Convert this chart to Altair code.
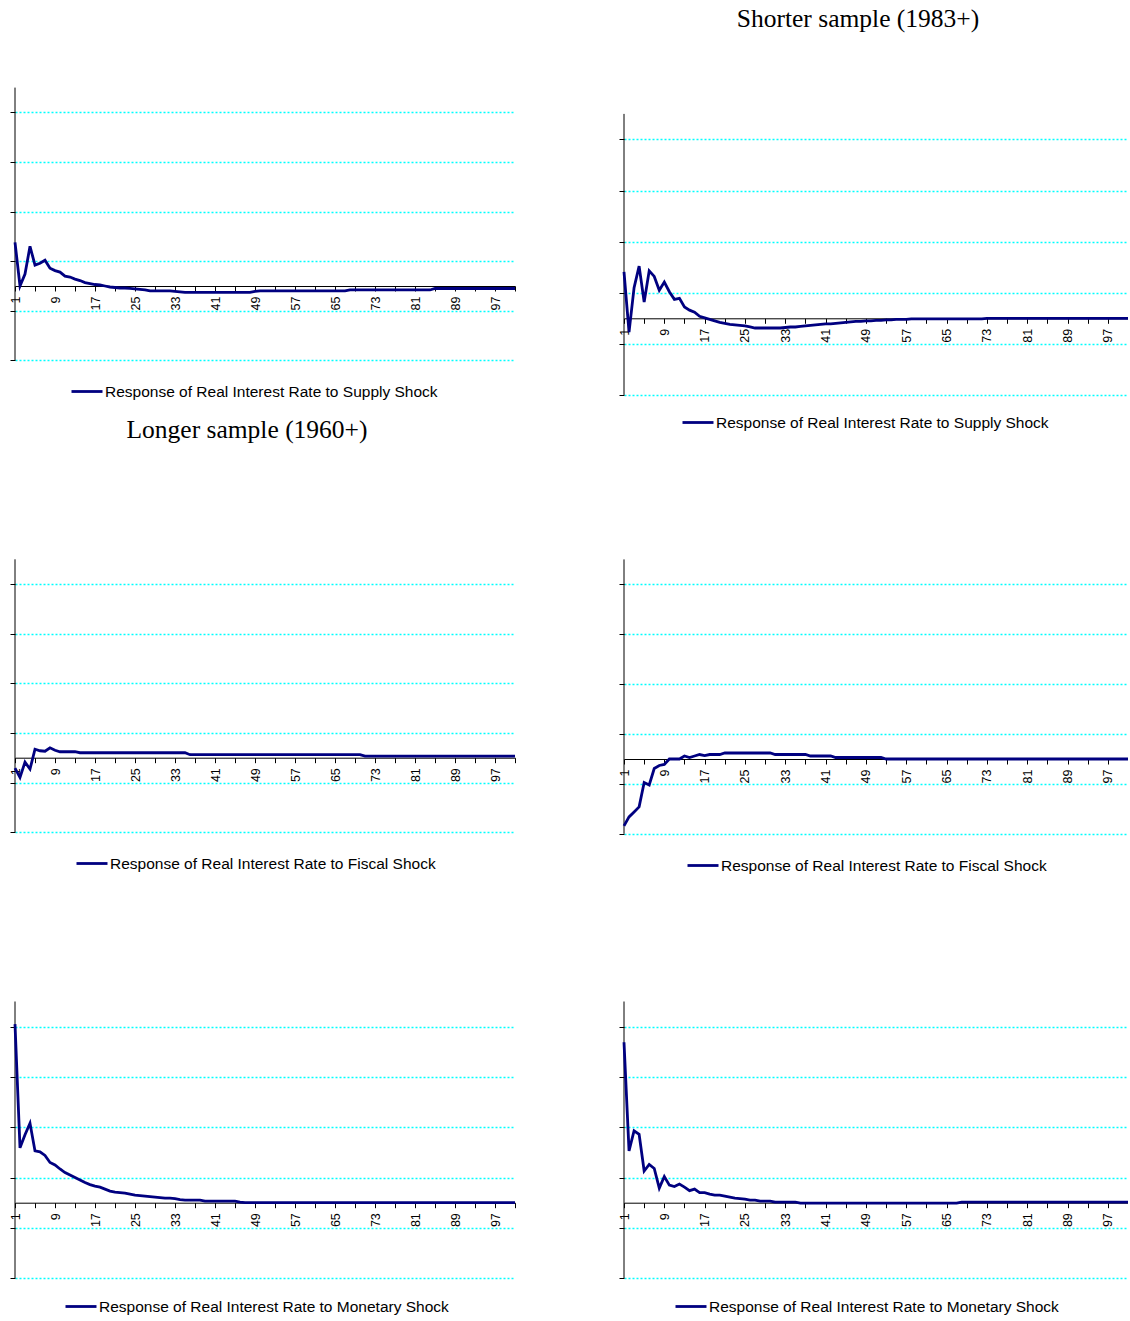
import altair as alt
import pandas as pd

# ---------------- data ----------------
PERIODS = list(range(1, 102))

LONG_SUPPLY = [
    0.088, 0.000, 0.024, 0.080, 0.042, 0.046, 0.052, 0.036, 0.031, 0.028,
    0.020, 0.018, 0.014, 0.011, 0.007, 0.005, 0.003, 0.002, 0.000, -0.002,
    -0.003, -0.004, -0.004, -0.005, -0.006, -0.007, -0.008, -0.010, -0.010, -0.010,
    -0.010, -0.010, -0.011, -0.012, -0.013, -0.013, -0.013, -0.013, -0.013, -0.013,
    -0.013, -0.013, -0.013, -0.013, -0.013, -0.013, -0.013, -0.013, -0.011, -0.010,
    -0.010, -0.010, -0.010, -0.010, -0.010, -0.010, -0.010, -0.010, -0.010, -0.010,
    -0.010, -0.010, -0.010, -0.010, -0.010, -0.010, -0.010, -0.008, -0.008, -0.008,
    -0.008, -0.008, -0.008, -0.008, -0.008, -0.008, -0.008, -0.008, -0.008, -0.008,
    -0.008, -0.008, -0.008, -0.008, -0.005, -0.005, -0.005, -0.005, -0.005, -0.005,
    -0.005, -0.005, -0.005, -0.005, -0.005, -0.005, -0.005, -0.005, -0.005, -0.005,
    -0.005,
]

SHORT_SUPPLY = [
    0.091, -0.027, 0.060, 0.102, 0.032, 0.093, 0.082, 0.055, 0.071, 0.052,
    0.037, 0.039, 0.022, 0.016, 0.012, 0.004, 0.001, -0.002, -0.005, -0.008,
    -0.010, -0.012, -0.013, -0.014, -0.015, -0.017, -0.019, -0.019, -0.019, -0.019,
    -0.019, -0.019, -0.018, -0.017, -0.017, -0.016, -0.015, -0.014, -0.013, -0.012,
    -0.011, -0.011, -0.010, -0.009, -0.008, -0.007, -0.006, -0.006, -0.005, -0.005,
    -0.004, -0.004, -0.003, -0.003, -0.002, -0.002, -0.002, -0.001, -0.001, -0.001,
    -0.001, -0.001, -0.001, -0.001, -0.001, -0.001, -0.001, -0.001, -0.001, -0.001,
    -0.001, -0.001, 0.000, 0.000, 0.000, 0.000, 0.000, 0.000, 0.000, 0.000,
    0.000, 0.000, 0.000, 0.000, 0.000, 0.000, 0.000, 0.000, 0.000, 0.000,
    0.000, 0.000, 0.000, 0.000, 0.000, 0.000, 0.000, 0.000, 0.000, 0.000,
    0.000,
]

LONG_FISCAL = [
    -0.021, -0.040, -0.009, -0.023, 0.017, 0.014, 0.013, 0.020, 0.015, 0.012,
    0.012, 0.012, 0.012, 0.010, 0.010, 0.010, 0.010, 0.010, 0.010, 0.010,
    0.010, 0.010, 0.010, 0.010, 0.010, 0.010, 0.010, 0.010, 0.010, 0.010,
    0.010, 0.010, 0.010, 0.010, 0.010, 0.006, 0.006, 0.006, 0.006, 0.006,
    0.006, 0.006, 0.006, 0.006, 0.006, 0.006, 0.006, 0.006, 0.006, 0.006,
    0.006, 0.006, 0.006, 0.006, 0.006, 0.006, 0.006, 0.006, 0.006, 0.006,
    0.006, 0.006, 0.006, 0.006, 0.006, 0.006, 0.006, 0.006, 0.006, 0.006,
    0.003, 0.003, 0.003, 0.003, 0.003, 0.003, 0.003, 0.003, 0.003, 0.003,
    0.003, 0.003, 0.003, 0.003, 0.003, 0.003, 0.003, 0.003, 0.003, 0.003,
    0.003, 0.003, 0.003, 0.003, 0.003, 0.003, 0.003, 0.003, 0.003, 0.003,
    0.003,
]

SHORT_FISCAL = [
    -0.134, -0.116, -0.106, -0.096, -0.047, -0.052, -0.019, -0.013, -0.011, 0.000,
    0.000, 0.000, 0.006, 0.003, 0.006, 0.009, 0.007, 0.009, 0.009, 0.009,
    0.012, 0.012, 0.012, 0.012, 0.012, 0.012, 0.012, 0.012, 0.012, 0.012,
    0.009, 0.009, 0.009, 0.009, 0.009, 0.009, 0.009, 0.006, 0.006, 0.006,
    0.006, 0.006, 0.003, 0.003, 0.003, 0.003, 0.003, 0.003, 0.003, 0.003,
    0.003, 0.003, 0.000, 0.000, 0.000, 0.000, 0.000, 0.000, 0.000, 0.000,
    0.000, 0.000, 0.000, 0.000, 0.000, 0.000, 0.000, 0.000, 0.000, 0.000,
    0.000, 0.000, 0.000, 0.000, 0.000, 0.000, 0.000, 0.000, 0.000, 0.000,
    0.000, 0.000, 0.000, 0.000, 0.000, 0.000, 0.000, 0.000, 0.000, 0.000,
    0.000, 0.000, 0.000, 0.000, 0.000, 0.000, 0.000, 0.000, 0.000, 0.000,
    0.000,
]

LONG_MONETARY = [
    0.355, 0.109, 0.135, 0.158, 0.103, 0.101, 0.094, 0.080, 0.075, 0.067,
    0.060, 0.055, 0.050, 0.045, 0.040, 0.036, 0.033, 0.031, 0.027, 0.023,
    0.021, 0.020, 0.019, 0.017, 0.015, 0.014, 0.013, 0.012, 0.011, 0.010,
    0.009, 0.009, 0.008, 0.006, 0.005, 0.005, 0.005, 0.005, 0.003, 0.003,
    0.003, 0.003, 0.003, 0.003, 0.003, 0.001, 0.000, 0.000, 0.000, 0.000,
    0.000, 0.000, 0.000, 0.000, 0.000, 0.000, 0.000, 0.000, 0.000, 0.000,
    0.000, 0.000, 0.000, 0.000, 0.000, 0.000, 0.000, 0.000, 0.000, 0.000,
    0.000, 0.000, 0.000, 0.000, 0.000, 0.000, 0.000, 0.000, 0.000, 0.000,
    0.000, 0.000, 0.000, 0.000, 0.000, 0.000, 0.000, 0.000, 0.000, 0.000,
    0.000, 0.000, 0.000, 0.000, 0.000, 0.000, 0.000, 0.000, 0.000, 0.000,
    0.000,
]

SHORT_MONETARY = [
    0.319, 0.103, 0.143, 0.136, 0.063, 0.076, 0.068, 0.029, 0.052, 0.035,
    0.032, 0.037, 0.031, 0.024, 0.027, 0.020, 0.020, 0.017, 0.015, 0.015,
    0.013, 0.011, 0.009, 0.008, 0.007, 0.005, 0.005, 0.003, 0.003, 0.003,
    0.001, 0.001, 0.001, 0.001, 0.001, -0.001, -0.001, -0.001, -0.001, -0.001,
    -0.001, -0.001, -0.001, -0.001, -0.001, -0.001, -0.001, -0.001, -0.001, -0.001,
    -0.001, -0.001, -0.001, -0.001, -0.001, -0.001, -0.001, -0.001, -0.001, -0.001,
    -0.001, -0.001, -0.001, -0.001, -0.001, -0.001, -0.001, 0.001, 0.001, 0.001,
    0.001, 0.001, 0.001, 0.001, 0.001, 0.001, 0.001, 0.001, 0.001, 0.001,
    0.001, 0.001, 0.001, 0.001, 0.001, 0.001, 0.001, 0.001, 0.001, 0.001,
    0.001, 0.001, 0.001, 0.001, 0.001, 0.001, 0.001, 0.001, 0.001, 0.001,
    0.001,
]

SERIES_SUPPLY = "Response of Real Interest Rate to Supply Shock"
SERIES_FISCAL = "Response of Real Interest Rate to Fiscal Shock"
SERIES_MONETARY = "Response of Real Interest Rate to Monetary Shock"
TITLE_SHORT = "Shorter sample (1983+)"
TITLE_LONG = "Longer sample (1960+)"

GRID_VALUES = [-0.15, -0.05, 0.05, 0.15, 0.25, 0.35]
AXIS_BOTTOM = -0.15
AXIS_TOP = 0.40
X_TICKS = list(range(1, 102, 4))

# ---------------- layout ----------------
LEFT_W, RIGHT_W = 500, 504
ROW_TOPS = [87, 558, 1002]
ROW_H = [311, 284, 278]
ROW_GAP = 160
COL_GAP = 109

LINE_COLOR = "#000080"
GRID_COLOR = "#00FFFF"
SANS = "Liberation Sans"
SERIF = "Liberation Serif"


def panel(values, series, width, row, zero_px, ppu, leg_x, leg_line_y,
          title=None, title_offset=0):
    top = ROW_TOPS[row]
    height = ROW_H[row]
    ymax = (zero_px - top) / ppu
    ymin = (zero_px - (top + height)) / ppu
    zero_rel = zero_px - top

    df = pd.DataFrame({"period": PERIODS, "value": values, "series": series})
    ax_df = pd.DataFrame({"value": [AXIS_BOTTOM], "value_top": [AXIS_TOP]})

    xscale = alt.Scale(domain=[1, 101], nice=False, zero=False)
    yscale = alt.Scale(domain=[ymin, ymax], nice=False, zero=False)

    xaxis = alt.Axis(
        values=X_TICKS,
        labelExpr="(datum.value - 1) % 8 === 0 && datum.value <= 97 ? datum.label : ''",
        labelAngle=270, labelFont=SANS, labelFontSize=12.5, labelColor="black",
        labelFlush=False, labelOverlap=False, labelPadding=5,
        offset=-(height - zero_rel), grid=False, title=None,
        domainColor="black", domainWidth=1, tickColor="black", tickSize=5,
    )
    yaxis = alt.Axis(
        values=GRID_VALUES, labels=False, domain=False, title=None,
        ticks=True, tickSize=5, tickColor="black",
        grid=True, gridColor=GRID_COLOR, gridDash=[2, 2], gridWidth=1.5,
    )

    yline = alt.Chart(ax_df).mark_rule(color="black", strokeWidth=1).encode(
        x=alt.value(0),
        y=alt.Y("value:Q", scale=yscale, axis=yaxis),
        y2="value_top:Q",
    )

    line = alt.Chart(df).mark_line(strokeWidth=2.8, strokeJoin="miter").encode(
        x=alt.X("period:Q", scale=xscale, axis=xaxis),
        y=alt.Y("value:Q", scale=yscale, axis=yaxis),
        color=alt.Color(
            "series:N",
            scale=alt.Scale(domain=[series], range=[LINE_COLOR]),
            legend=alt.Legend(
                orient="none", legendX=leg_x - 2, legendY=leg_line_y - top - 15.5,
                title=None, symbolType="stroke", symbolSize=961,
                symbolStrokeWidth=2.8, labelFont=SANS, labelFontSize=15.5,
                labelColor="black", labelOffset=1, padding=0, labelLimit=0,
            ),
        ),
    )

    props = dict(width=width, height=height)
    if title:
        props["title"] = alt.TitleParams(
            text=title, font=SERIF, fontSize=25.5, fontWeight="normal",
            color="black", anchor="middle", frame="group", dx=-18,
            offset=title_offset, baseline="alphabetic",
        )
    return alt.layer(yline, line).properties(**props)


p1 = panel(LONG_SUPPLY, SERIES_SUPPLY, LEFT_W, 0, 286, 496, 57, 390)
p2 = panel(SHORT_SUPPLY, SERIES_SUPPLY, RIGHT_W, 0, 318.3, 511, 59, 421,
           title=TITLE_SHORT, title_offset=34.5)
p3 = panel(LONG_FISCAL, SERIES_FISCAL, LEFT_W, 1, 757.7, 496, 62, 862,
           title=TITLE_LONG, title_offset=94.5)
p4 = panel(SHORT_FISCAL, SERIES_FISCAL, RIGHT_W, 1, 759, 499, 64, 864)
p5 = panel(LONG_MONETARY, SERIES_MONETARY, LEFT_W, 2, 1202.7, 503, 51, 1305)
p6 = panel(SHORT_MONETARY, SERIES_MONETARY, RIGHT_W, 2, 1202.7, 503, 52, 1305)

chart = alt.concat(
    p1, p2, p3, p4, p5, p6, columns=2,
    spacing={"row": ROW_GAP, "column": COL_GAP},
    bounds="flush", align="each",
).resolve_scale(
    x="independent", y="independent", color="independent"
).resolve_legend(
    color="independent"
).properties(
    padding={"left": 9, "top": 7, "right": -7, "bottom": 0},
    background="white",
).configure_view(stroke=None)

chart.save("out.html", embed_options={"renderer": "svg", "actions": False})
